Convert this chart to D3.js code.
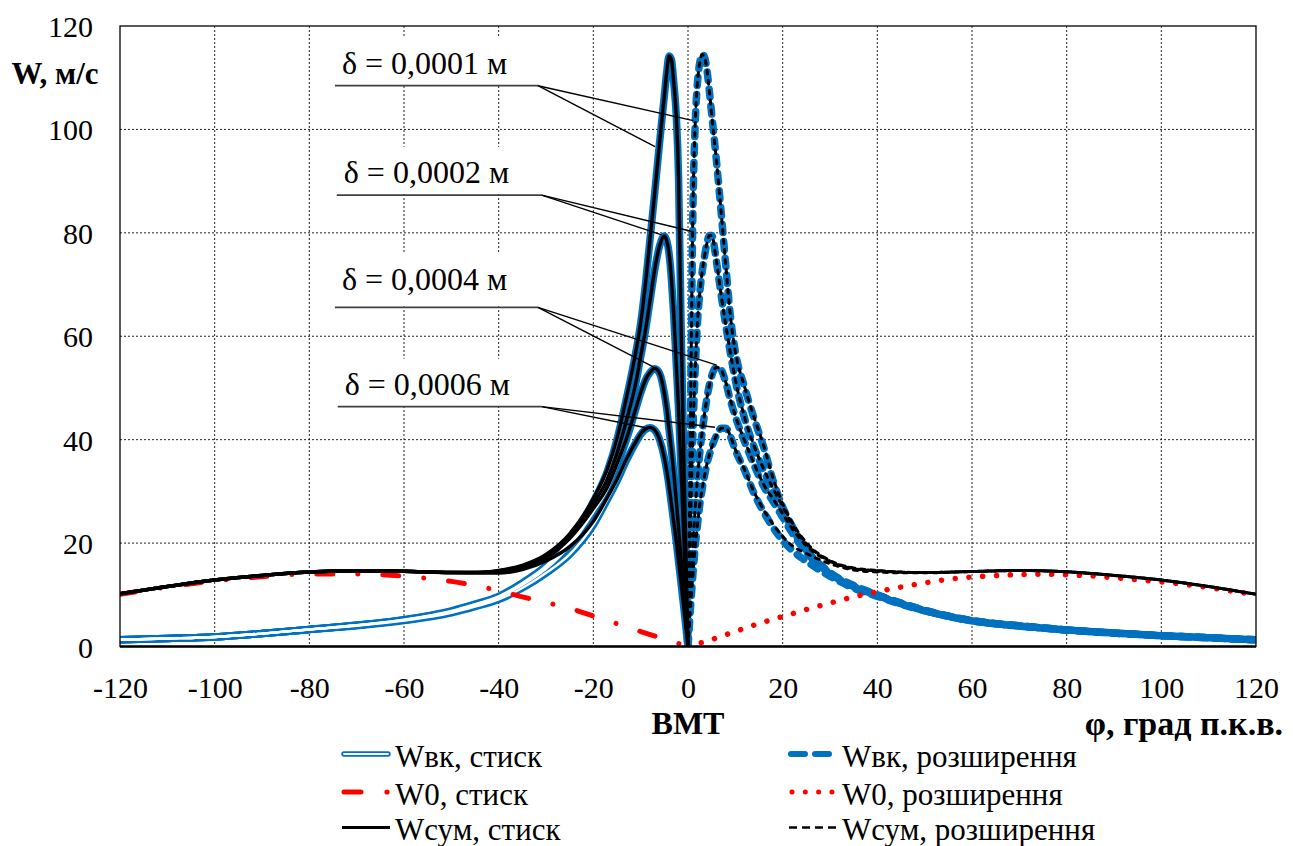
<!DOCTYPE html>
<html><head><meta charset="utf-8">
<script src="https://cdn.jsdelivr.net/npm/d3@7"></script>
<style>
body{margin:0;background:#fff}
</style>
</head><body>
<svg id="c" width="1293" height="846" style="font-family:'Liberation Serif','DejaVu Serif','Noto Serif','Times New Roman',Times,serif"></svg>
<script>
// ---------- DATA ----------
const X_TICKS = [-120,-100,-80,-60,-40,-20,0,20,40,60,80,100,120];
const Y_TICKS = [0,20,40,60,80,100,120];
const DELTAS = ["δ = 0,0001 м","δ = 0,0002 м","δ = 0,0004 м","δ = 0,0006 м"];

// compression side (стиск)
const PHI_C = [-120,-110,-100,-90,-80,-70,-60,-50,-45,-40,-35,-30,-25,-20,-17,-15,-13,-11,-10,-9,-8,-7,-6,-5,-4.5,-4,-3.5,-3,-2.5,-2,-1.5,-1,-0.5,0];
const WVK_C_1 = [1.3,1.55,1.85,2.5,3.3,4.1,5.2,6.9,8.2,9.7,12.3,15.6,20.5,28,34,40,48,57,62.5,70,79,88,97.5,106.5,111,114.2,113.5,109,103,91,64,41,20,0];
const WVK_C_2 = [1.3,1.55,1.85,2.5,3.3,4.1,5.15,6.8,8.1,9.6,12.1,15.3,20,27,32,37,43.5,51,56,61,67,73,77.5,79.4,78.5,76,71,64,55,46,35,24,12,0];
const WVK_C_4 = [1.3,1.55,1.85,2.5,3.3,4.1,5.1,6.7,8.0,9.5,11.9,15,19.5,26,30.5,35,40,46,49,51.5,53,53.7,52.8,49,46,42,38,33.5,28.5,23,17.5,12,6,0];
const WVK_C_6 = [1.3,1.55,1.85,2.5,3.3,4.0,5.0,6.5,7.7,9.1,11.3,14.2,17.8,23.5,28.5,32,36,39.5,41,42,42.3,41.8,40,36.5,34,31,27.5,24,20.5,16.5,12.5,8.5,4.3,0];
const WSUM_C_1 = [10.2,11.6,12.85,13.75,14.4,14.65,14.55,14.3,14.3,14.7,15.7,17.8,21.8,28.6,34.4,40.2,48.15,57.1,62.6,70.05,79.05,88.05,97.5,106.5,111,114.2,113.5,109,103,91,64,41,20,0];
const WSUM_C_2 = [10.2,11.6,12.85,13.75,14.4,14.65,14.55,14.3,14.3,14.6,15.6,17.5,21.3,27.6,32.4,37.3,43.7,51.1,56.1,61.05,67.05,73.05,77.5,79.4,78.5,76,71,64,55,46,35,24,12,0];
const WSUM_C_4 = [10.2,11.6,12.85,13.75,14.4,14.65,14.55,14.3,14.3,14.5,15.45,17.2,20.9,26.7,30.9,35.3,40.2,46.1,49.1,51.55,53.05,53.75,52.85,49,46,42,38,33.5,28.5,23,17.5,12,6,0];
const WSUM_C_6 = [10.2,11.6,12.85,13.75,14.4,14.65,14.55,14.3,14.25,14.2,14.9,16.55,19.3,24.2,28.9,32.3,36.2,39.6,41.1,42.05,42.35,41.85,40,36.5,34,31,27.5,24,20.5,16.5,12.5,8.5,4.3,0];
const PHI_W0C = [-120,-110,-100,-90,-80,-70,-60,-50,-45,-40,-35,-30,-25,-20,-15,-10,-5,0];
const W0_C = [10.1,11.5,12.7,13.5,14.0,14.0,13.6,12.6,11.8,10.8,9.6,8.5,7.4,5.9,4.4,2.9,1.45,0];

// expansion side (розширення)
const PHI_E = [0,0.25,0.5,0.75,1,1.5,2,2.5,3,3.5,4,4.5,5,6,7,8,9,10,12,14,16,18,20,22,25,30,35,40,45,50,60,70,80,90,100,110,120];
const WVK_E_1 = [0,20,42,63,82,100.5,109,113,114.5,114,111.5,107.5,103,94,84,73.5,63.5,57,50,44,38.5,32,27,23.3,18.8,14.3,11.8,10.0,8.4,7.0,5.0,4.0,3.2,2.6,2.1,1.7,1.3];
const WVK_E_2 = [0,11,22,32,40,53,62.5,68.5,72.5,75.5,78,79.5,79.5,74.5,68,62,56.5,51.5,44,38.5,34,30,26.5,22.8,18.6,14.2,11.7,9.95,8.35,7.0,5.0,4.0,3.2,2.6,2.1,1.7,1.3];
const WVK_E_4 = [0,5,10,14.5,19,26.5,32.5,37.5,41.5,45,48,50.5,52.3,54,53.5,51,47.5,44.5,39.5,35,31,28,25,22,18.2,14.1,11.6,9.9,8.3,6.95,5.0,4.0,3.2,2.6,2.1,1.7,1.3];
const WVK_E_6 = [0,3.5,7,10.3,13.5,19,23.5,27.5,30.5,33,35.3,37,38.5,40.8,42.2,42.2,40.5,38,34,29.5,26,23,20.5,18.6,16.5,13.6,11.3,9.7,8.2,6.9,4.95,3.95,3.2,2.6,2.1,1.7,1.3];
const WSUM_E_1 = [0,20,42,63,82,100.5,109,113,114.5,114,111.5,107.5,103,94,84,73.55,63.55,57.1,50.1,44.2,38.8,32.5,27.6,24.0,20.1,16.6,15.2,14.7,14.4,14.3,14.5,14.7,14.45,13.75,12.85,11.6,10.1];
const WSUM_E_2 = [0,11,22,32,40,53,62.5,68.5,72.5,75.5,78,79.5,79.5,74.5,68,62.05,56.55,51.6,44.2,38.7,34.3,30.5,27.1,23.6,19.9,16.5,15.1,14.65,14.4,14.3,14.5,14.7,14.45,13.75,12.85,11.6,10.1];
const WSUM_E_4 = [0,5,10,14.5,19,26.5,32.5,37.5,41.5,45,48,50.5,52.3,54,53.5,51.05,47.6,44.6,39.7,35.3,31.3,28.5,25.7,22.8,19.5,16.4,15.0,14.6,14.35,14.3,14.5,14.7,14.45,13.75,12.85,11.6,10.1];
const WSUM_E_6 = [0,3.5,7,10.3,13.5,19,23.5,27.5,30.5,33,35.3,37,38.5,40.8,42.2,42.25,40.6,38.1,34.1,29.8,26.4,23.6,21.3,19.5,18.0,16.0,14.8,14.4,14.25,14.25,14.5,14.7,14.45,13.75,12.85,11.6,10.1];
const PHI_W0E = [0,5,10,15,20,25,30,35,40,45,50,55,60,65,70,75,80,85,90,95,100,105,110,115,120];
const W0_E = [0,1.35,2.9,4.45,5.8,7.15,8.4,9.6,10.6,11.5,12.3,13.0,13.45,13.72,13.92,13.97,13.88,13.65,13.3,12.9,12.5,12.0,11.4,10.7,10.0];

// callout annotations (data units)
const NOTE_X0 = [-74.6,-74.2,-74.6,-74.0];
const NOTE_X1 = [-31.7,-30.9,-31.7,-30.9];
const NOTE_LINE_V = [108.45,87.3,65.6,46.4];
const NOTE_TEXT_V = [112.9,91.8,71.1,50.8];
const NOTE_END_C = [[-6.97,96.65],[-5.56,79.6],[-7.33,54.1],[-8.39,42.2]];
const NOTE_END_E = [[1.12,101.7],[1.12,80.2],[6.06,54.4],[5.7,42.4]];

const LEGEND_LEFT = ["Wвк, стиск","W0, стиск","Wсум, стиск"];
const LEGEND_RIGHT = ["Wвк, розширення","W0, розширення","Wсум, розширення"];

// ---------- CHART ----------
const FONT = "'Liberation Serif','DejaVu Serif','Noto Serif','Times New Roman',Times,serif";
const BLUE = "#0070C0", RED = "#FF0000";
const svg = d3.select("#c");
const M = {l:120, r:1256, t:26, b:646.5};
const x = d3.scaleLinear().domain([-120,120]).range([M.l, M.r]);
const y = d3.scaleLinear().domain([0,120]).range([M.b, M.t]);
const zip = (p, v) => p.map((d,i)=>[d, v[i]]);
const line = d3.line().x(d=>x(d[0])).y(d=>y(d[1])).curve(d3.curveMonotoneX);

// grid
const grid = svg.append("g");
grid.selectAll("line.v").data(X_TICKS.filter(d=>d>-120 && d<120)).join("line")
  .attr("x1",d=>x(d)).attr("x2",d=>x(d)).attr("y1",M.t).attr("y2",M.b)
  .attr("stroke","#222").attr("stroke-width",1).attr("stroke-dasharray","2,2");
grid.selectAll("line.h").data(Y_TICKS.filter(d=>d>0 && d<120)).join("line")
  .attr("y1",d=>y(d)).attr("y2",d=>y(d)).attr("x1",M.l).attr("x2",M.r)
  .attr("stroke","#222").attr("stroke-width",1).attr("stroke-dasharray","2,2");

// label boxes (white background behind callout text)
const notes = svg.append("g");
DELTAS.forEach((t,i)=>{
  notes.append("rect")
    .attr("x", x(NOTE_X0[i])-3).attr("width", x(NOTE_X1[i])-x(NOTE_X0[i])+5)
    .attr("y", y(NOTE_TEXT_V[i])-25).attr("height", y(NOTE_LINE_V[i])-y(NOTE_TEXT_V[i])+24)
    .attr("fill","#fff");
});

svg.append("clipPath").attr("id","pc").append("rect")
  .attr("x",M.l).attr("y",M.t-10).attr("width",M.r-M.l).attr("height",M.b-M.t+10);
const plot = svg.append("g").attr("clip-path","url(#pc)");

const WVK_C = [WVK_C_1,WVK_C_2,WVK_C_4,WVK_C_6];
const WVK_E = [WVK_E_1,WVK_E_2,WVK_E_4,WVK_E_6];
const WSUM_C = [WSUM_C_1,WSUM_C_2,WSUM_C_4,WSUM_C_6];
const WSUM_E = [WSUM_E_1,WSUM_E_2,WSUM_E_4,WSUM_E_6];

// Wвк стиск: double blue line
WVK_C.forEach(v=>{
  plot.append("path").attr("d", line(zip(PHI_C,v))).attr("fill","none")
    .attr("stroke",BLUE).attr("stroke-width",7.5).attr("stroke-linejoin","round");
});
WVK_C.forEach(v=>{
  plot.append("path").attr("d", line(zip(PHI_C,v))).attr("fill","none")
    .attr("stroke","#fff").attr("stroke-width",2.4).attr("stroke-linejoin","round");
});
// Wвк розширення: blue dashed
WVK_E.forEach(v=>{
  plot.append("path").attr("d", line(zip(PHI_E,v))).attr("fill","none")
    .attr("stroke",BLUE).attr("stroke-width",7.5).attr("stroke-linecap","round")
    .attr("stroke-dasharray","8,9");
});
// W0
plot.append("path").attr("d", line(zip(PHI_W0C,W0_C))).attr("fill","none")
  .attr("stroke",RED).attr("stroke-width",5).attr("stroke-linecap","round")
  .attr("stroke-dasharray","16,25,0.01,25");
plot.append("path").attr("d", line(zip(PHI_W0E,W0_E))).attr("fill","none")
  .attr("stroke",RED).attr("stroke-width",5.5).attr("stroke-linecap","round")
  .attr("stroke-dasharray","0.01,13.8");
// Wсум
WSUM_C.forEach(v=>{
  plot.append("path").attr("d", line(zip(PHI_C,v))).attr("fill","none")
    .attr("stroke","#000").attr("stroke-width",3.5).attr("stroke-linejoin","round");
});
WSUM_E.forEach(v=>{
  plot.append("path").attr("d", line(zip(PHI_E,v))).attr("fill","none")
    .attr("stroke","#000").attr("stroke-width",3).attr("stroke-linecap","round")
    .attr("stroke-dasharray","4,6");
});

// callouts
DELTAS.forEach((t,i)=>{
  const x0 = x(NOTE_X0[i]), x1 = x(NOTE_X1[i]), yl = y(NOTE_LINE_V[i]);
  notes.append("line").attr("x1",x0).attr("x2",x1).attr("y1",yl).attr("y2",yl)
    .attr("stroke","#404040").attr("stroke-width",1.8);
  [NOTE_END_C[i], NOTE_END_E[i]].forEach(e=>{
    svg.append("line").attr("x1",x1).attr("y1",yl).attr("x2",x(e[0])).attr("y2",y(e[1]))
      .attr("stroke","#000").attr("stroke-width",1.4);
  });
  notes.append("text").attr("x",x0+7).attr("y",y(NOTE_TEXT_V[i]))
    .attr("font-family",FONT).attr("dominant-baseline","central").attr("font-size",32).text(t);
});

// frame
svg.append("rect").attr("x",M.l).attr("y",M.t).attr("width",M.r-M.l).attr("height",M.b-M.t)
  .attr("fill","none").attr("stroke","#000").attr("stroke-width",1.3);
svg.append("line").attr("x1",M.l).attr("x2",M.r).attr("y1",M.b).attr("y2",M.b)
  .attr("stroke","#000").attr("stroke-width",2.4);

// axes
const xa = svg.append("g").attr("transform",`translate(0,${M.b})`)
  .call(d3.axisBottom(x).tickValues(X_TICKS).tickSize(0).tickFormat(d=>String(d)));
xa.select(".domain").remove();
xa.attr("font-size",30).attr("font-family",FONT);
xa.selectAll("text").attr("y",40.5).attr("dy",null).attr("dominant-baseline","central");

const ya = svg.append("g").attr("transform",`translate(${M.l},0)`)
  .call(d3.axisLeft(y).tickValues(Y_TICKS).tickSize(0).tickFormat(d=>String(d)));
ya.select(".domain").remove();
ya.attr("font-size",30).attr("font-family",FONT);
ya.selectAll("text").attr("x",-27).attr("dy",null).attr("dominant-baseline","central");

// axis titles
const title = (tx,ty,anchor,t,size)=>svg.append("text").attr("x",tx).attr("y",ty).attr("text-anchor",anchor)
  .attr("font-family",FONT).attr("dominant-baseline","central").attr("font-size",size)
  .attr("font-weight","bold").text(t);
title(55,73,"middle","W, м/с",31);
title(x(0),723,"middle","ВМТ",32);
title(1283,723,"end","φ, град п.к.в.",34);

// legend
const LY = [754, 792, 827.5];
const lg = svg.append("g").attr("font-family",FONT);
// left column
lg.append("line").attr("x1",344).attr("x2",388).attr("y1",LY[0]).attr("y2",LY[0])
  .attr("stroke",BLUE).attr("stroke-width",5.5).attr("stroke-linecap","round");
lg.append("line").attr("x1",344).attr("x2",388).attr("y1",LY[0]).attr("y2",LY[0])
  .attr("stroke","#fff").attr("stroke-width",1.8).attr("stroke-linecap","round");
lg.append("line").attr("x1",344).attr("x2",361).attr("y1",LY[1]).attr("y2",LY[1])
  .attr("stroke",RED).attr("stroke-width",5).attr("stroke-linecap","round");
lg.append("circle").attr("cx",387).attr("cy",LY[1]).attr("r",2.6).attr("fill",RED);
lg.append("line").attr("x1",342).attr("x2",390).attr("y1",LY[2]).attr("y2",LY[2])
  .attr("stroke","#000").attr("stroke-width",3);
LEGEND_LEFT.forEach((t,i)=>lg.append("text").attr("x",395).attr("y",LY[i]+2)
  .attr("dominant-baseline","central").attr("font-size",31).text(t));
// right column
lg.append("line").attr("x1",791).attr("x2",835).attr("y1",LY[0]).attr("y2",LY[0])
  .attr("stroke",BLUE).attr("stroke-width",6).attr("stroke-linecap","round")
  .attr("stroke-dasharray","14,10");
lg.append("line").attr("x1",792).attr("x2",835).attr("y1",LY[1]).attr("y2",LY[1])
  .attr("stroke",RED).attr("stroke-width",5).attr("stroke-linecap","round")
  .attr("stroke-dasharray","0.01,13.3");
lg.append("line").attr("x1",789).attr("x2",837).attr("y1",LY[2]).attr("y2",LY[2])
  .attr("stroke","#000").attr("stroke-width",2.5).attr("stroke-dasharray","8,5");
LEGEND_RIGHT.forEach((t,i)=>lg.append("text").attr("x",842).attr("y",LY[i]+2)
  .attr("dominant-baseline","central").attr("font-size",31).text(t));
</script>
</body></html>
